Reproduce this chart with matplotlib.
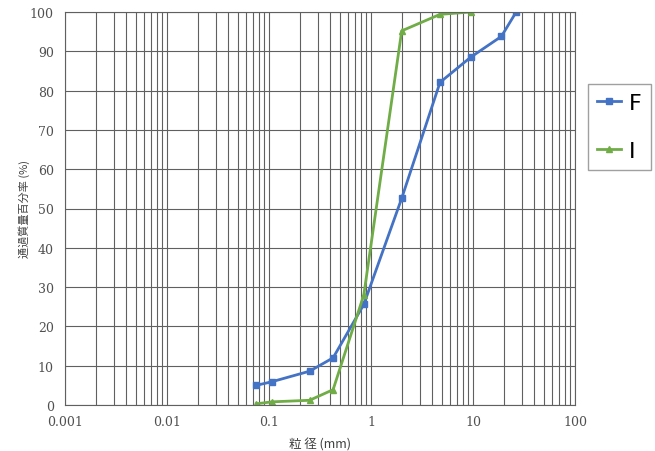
import matplotlib
matplotlib.use("Agg")
import matplotlib.pyplot as plt
from matplotlib.ticker import LogLocator, NullFormatter, FixedLocator

plt.rcParams['font.family'] = ['Liberation Serif', 'Noto Sans CJK JP']

size_F = [0.075, 0.106, 0.25, 0.425, 0.85, 2.0, 4.75, 9.5, 19.0, 26.5]
pass_F = [5.0, 5.9, 8.6, 12.0, 25.6, 52.6, 82.1, 88.5, 93.8, 100.0]
size_I = [0.075, 0.106, 0.25, 0.425, 0.85, 2.0, 4.75, 9.5]
pass_I = [0.3, 0.8, 1.2, 3.9, 28.0, 95.2, 99.4, 100.0]
xticks = [0.001, 0.01, 0.1, 1, 10, 100]
xticklabels = ['0.001', '0.01', '0.1', '1', '10', '100']
yticks = list(range(0, 101, 10))

fig = plt.figure(figsize=(6.55, 4.52), dpi=100)
ax = fig.add_axes([65/655, 1-406/452, 510/655, 393/452])

ax.plot(size_F, pass_F, color='#4472C4', marker='s', markersize=5, linewidth=2, label='F')
ax.plot(size_I, pass_I, color='#70AD47', marker='^', markersize=5, linewidth=2, label='I')

ax.set_xscale('log')
ax.set_xlim(0.001, 100)
ax.set_ylim(0, 100)
ax.xaxis.set_major_locator(FixedLocator(xticks))
ax.set_xticklabels(xticklabels)
ax.xaxis.set_minor_locator(LogLocator(base=10, subs=range(2, 10), numticks=20))
ax.xaxis.set_minor_formatter(NullFormatter())
ax.set_yticks(yticks)
ax.grid(True, which='both', axis='x', color='#606060', linewidth=0.8)
ax.grid(True, which='major', axis='y', color='#606060', linewidth=0.8)
ax.set_axisbelow(True)
for s in ax.spines.values():
    s.set_color('#606060')
    s.set_linewidth(0.8)
ax.tick_params(which='both', length=0, labelsize=9, colors='#505050',
               labelfontfamily='serif')
ax.tick_params(axis='x', pad=7)
ax.tick_params(axis='y', pad=8)

ax.set_xlabel('粒 径 (mm)', fontsize=9, color='#404040',
              family=['Noto Sans CJK JP', 'DejaVu Sans'], labelpad=7)
ax.set_ylabel('通過質量百分率 (%)', fontsize=8, color='#404040',
              family=['Noto Sans CJK JP', 'DejaVu Sans'])
ax.yaxis.set_label_coords(-0.068, 0.5)

leg = fig.legend(loc='upper left', bbox_to_anchor=(588/655, 1-85/452),
                 frameon=True, fancybox=False, borderaxespad=0,
                 handlelength=1.1, handletextpad=0.35, labelspacing=1.25,
                 borderpad=0.4, prop={'family': 'DejaVu Sans', 'size': 16})
leg.get_frame().set_edgecolor('#888888')
leg.get_frame().set_linewidth(1)

fig.savefig('out.png', dpi=100)
